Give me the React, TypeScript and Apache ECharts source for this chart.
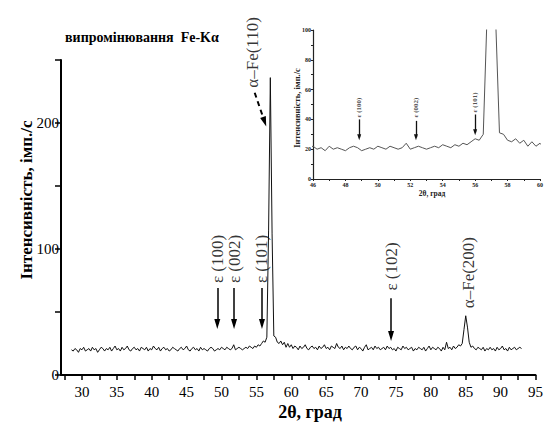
import React, { useEffect, useRef } from "react";
import * as echarts from "echarts";

// scan start / step (2θ, degrees)
const scanStart = 28.5;
const scanStep = 0.25;
// intensity, imp./s, one value per step
const intensity = [
  20, 19, 21, 20, 18, 21, 20, 22, 19, 20, 21, 19, 22, 20, 21, 18, 20, 22, 21, 19,
  21, 20, 22, 19, 21, 23, 20, 21, 19, 22, 20, 21, 23, 20, 19, 21, 22, 20, 21, 19,
  22, 21, 20, 22, 19, 21, 20, 23, 21, 20, 22, 19, 21, 22, 20, 21, 19, 20, 22, 21,
  20, 19, 21, 22, 20, 21, 23, 20, 19, 21, 22, 20, 21, 19, 22, 20, 21, 20, 19, 21,
  22, 21, 19, 20, 21, 20, 22, 21, 20, 22, 21, 20, 21, 24, 20, 21, 22, 21, 20, 21,
  22, 21, 23, 22, 21, 23, 22, 24, 23, 25, 27, 26, 30, 115, 236, 112, 31, 30, 26, 25,
  27, 24, 26, 22, 25, 22, 24, 21, 23, 22, 20, 23, 21, 22, 24, 21, 20, 22, 23, 21,
  22, 20, 23, 21, 22, 24, 21, 22, 20, 23, 22, 21, 25, 22, 21, 23, 20, 22, 21, 23,
  21, 20, 22, 23, 20, 22, 21, 19, 22, 24, 20, 21, 22, 20, 23, 21, 22, 20, 21, 22,
  20, 23, 21, 22, 20, 21, 19, 22, 21, 20, 23, 21, 22, 20, 21, 22, 19, 21, 20, 22,
  21, 20, 22, 19, 21, 23, 20, 22, 21, 20, 22, 21, 19, 22, 20, 26, 21, 22, 20, 23,
  21, 22, 24, 23, 25, 36, 47, 38, 26, 22, 23, 21, 20, 22, 21, 20, 22, 19, 21, 20,
  22, 20, 21, 19, 22, 20, 21, 23, 20, 21, 19, 22, 20, 21, 22, 20, 21, 22, 21,
];

// main axis ticks
const mainXLabels = [30, 35, 40, 45, 50, 55, 60, 65, 70, 75, 80, 85, 90, 95];
const mainXTicks = [27.5, 30, 32.5, 35, 37.5, 40, 42.5, 45, 47.5, 50, 52.5, 55, 57.5, 60, 62.5, 65, 67.5, 70, 72.5, 75, 77.5, 80, 82.5, 85, 87.5, 90, 92.5, 95];

// main annotations (ε phase)
const epsNames = ["ε (100)", "ε (002)", "ε (101)", "ε (102)"];
const epsX = [49.4, 51.8, 55.8, 74.3];
const epsArrowTop = [69, 69, 69, 61];
const epsArrowTip = [40.5, 40.5, 40.5, 31];
const epsTextBase = [73, 73, 73, 67];

// α-Fe annotations
const feNames = ["α–Fe(110)", "α–Fe(200)"];
const feX = [54.5, 85.35];
const feTextBase = [228, 53];
const fe110ArrowFrom = [54.76, 224];
const fe110ArrowTo = [56.18, 201];

// inset annotations
const insetEpsNames = ["ε (100)", "ε (002)", "ε (101)"];
const insetEpsX = [48.85, 52.35, 56.0];
const insetArrowTop = [40, 39, 43.3];
const insetArrowTip = [28, 28, 31.3];
const insetTextBase = [41.3, 41.3, 44.7];

const serif = "Liberation Serif";

export default function App() {
  const ref = useRef<HTMLDivElement>(null);

  useEffect(() => {
    if (!ref.current) return;
    const chart = echarts.init(ref.current, null, { renderer: "svg" });
    const scan = intensity.map((v, i) => [scanStart + i * scanStep, v]);

    const mainArrows: any[] = epsX.map((x, i) => [
      { coord: [x, epsArrowTop[i]] },
      { coord: [x, epsArrowTip[i]] },
    ]);
    mainArrows.push([
      { coord: fe110ArrowFrom, lineStyle: { type: [5, 4], width: 2 } },
      { coord: fe110ArrowTo, lineStyle: { type: [5, 4], width: 2 } },
    ]);

    const insetArrows = insetEpsX.map((x, i) => [
      { coord: [x, insetArrowTop[i]] },
      { coord: [x, insetArrowTip[i]] },
    ]);

    const mainLabels = [
      ...epsX.map((x, i) => [x, epsTextBase[i], epsNames[i]]),
      ...feX.map((x, i) => [x, feTextBase[i], feNames[i]]),
    ];
    const insetLabels = insetEpsX.map((x, i) => [x, insetTextBase[i], insetEpsNames[i]]);

    const axisCommon = {
      axisLine: { show: true, lineStyle: { color: "#000", width: 2 } },
      splitLine: { show: false },
    };

    chart.setOption({
      animation: false,
      backgroundColor: "#ffffff",
      grid: [
        { left: 61, top: 60, width: 480, height: 315, containLabel: false },
        { left: 313, top: 30, width: 231, height: 149, containLabel: false },
      ],
      xAxis: [
        {
          gridIndex: 0,
          type: "value",
          min: 27,
          max: 95,
          ...axisCommon,
          axisTick: { show: true, length: 5, customValues: mainXTicks, lineStyle: { color: "#000", width: 1.5 } },
          axisLabel: {
            customValues: mainXLabels,
            fontFamily: serif,
            fontSize: 15,
            color: "#000",
            margin: 9,
          },
        },
        {
          gridIndex: 1,
          type: "value",
          min: 46,
          max: 60,
          interval: 1,
          axisLine: { show: true, lineStyle: { color: "#222", width: 1.2 } },
          splitLine: { show: false },
          axisTick: { show: true, length: 2, lineStyle: { color: "#222" } },
          axisLabel: {
            formatter: (v: number) => (v % 2 === 0 ? String(v) : ""),
            fontFamily: serif,
            fontSize: 6,
            fontWeight: "bold",
            color: "#222",
            margin: 3,
          },
        },
      ],
      yAxis: [
        {
          gridIndex: 0,
          type: "value",
          min: 0,
          max: 250,
          interval: 50,
          ...axisCommon,
          axisTick: { show: true, length: 6, lineStyle: { color: "#000", width: 1.5 } },
          axisLabel: {
            formatter: (v: number) => (v % 100 === 0 ? String(v) : ""),
            fontFamily: serif,
            fontSize: 15,
            color: "#000",
            margin: 2,
          },
        },
        {
          gridIndex: 1,
          type: "value",
          min: 0,
          max: 100,
          interval: 10,
          axisLine: { show: true, lineStyle: { color: "#222", width: 1.2 } },
          splitLine: { show: false },
          axisTick: { show: true, length: 2, lineStyle: { color: "#222" } },
          axisLabel: {
            formatter: (v: number) => (v % 20 === 0 ? String(v) : ""),
            fontFamily: serif,
            fontSize: 6,
            fontWeight: "bold",
            color: "#222",
            margin: 2,
          },
        },
      ],
      series: [
        {
          type: "line",
          xAxisIndex: 0,
          yAxisIndex: 0,
          data: scan,
          showSymbol: false,
          clip: true,
          lineStyle: { color: "#111", width: 1 },
          markLine: {
            silent: true,
            symbol: ["none", "triangle"],
            symbolSize: [6, 10],
            label: { show: false },
            lineStyle: { color: "#000", width: 1.5, type: "solid" },
            data: mainArrows,
          },
        },
        {
          type: "scatter",
          xAxisIndex: 0,
          yAxisIndex: 0,
          data: mainLabels,
          symbolSize: 0,
          silent: true,
          label: {
            show: true,
            position: "inside",
            formatter: (p: any) => p.value[2],
            rotate: 90,
            align: "left",
            verticalAlign: "middle",
            fontFamily: serif,
            fontSize: 17,
            color: "#000",
          },
        },
        {
          type: "line",
          xAxisIndex: 1,
          yAxisIndex: 1,
          data: scan,
          showSymbol: false,
          clip: true,
          lineStyle: { color: "#555", width: 1 },
          markLine: {
            silent: true,
            symbol: ["none", "triangle"],
            symbolSize: [4, 6],
            label: { show: false },
            lineStyle: { color: "#111", width: 1.3, type: "solid" },
            data: insetArrows,
          },
        },
        {
          type: "scatter",
          xAxisIndex: 1,
          yAxisIndex: 1,
          data: insetLabels,
          symbolSize: 0,
          silent: true,
          label: {
            show: true,
            position: "inside",
            formatter: (p: any) => p.value[2],
            rotate: 90,
            align: "left",
            verticalAlign: "middle",
            fontFamily: serif,
            fontSize: 7,
            fontWeight: "bold",
            color: "#222",
          },
        },
      ],
      graphic: [
        {
          type: "text",
          x: 65,
          y: 37,
          style: {
            text: "випромінювання  Fe-Kα",
            font: `bold 14px "${serif}"`,
            fill: "#000",
            align: "left",
            verticalAlign: "middle",
          },
        },
        {
          type: "text",
          x: 26,
          y: 200,
          rotation: Math.PI / 2,
          style: {
            text: "Інтенсивність, імп./с",
            font: `bold 17px "${serif}"`,
            fill: "#000",
            align: "center",
            verticalAlign: "middle",
          },
        },
        {
          type: "text",
          x: 310,
          y: 412,
          style: {
            text: "2θ, град",
            font: `bold 18px "${serif}"`,
            fill: "#000",
            align: "center",
            verticalAlign: "middle",
          },
        },
        {
          type: "text",
          x: 432,
          y: 193,
          style: {
            text: "2θ, град",
            font: `bold 7.5px "${serif}"`,
            fill: "#222",
            align: "center",
            verticalAlign: "middle",
          },
        },
        {
          type: "text",
          x: 297,
          y: 108,
          rotation: Math.PI / 2,
          style: {
            text: "Інтенсивність, імп./с",
            font: `bold 8.5px "${serif}"`,
            fill: "#222",
            align: "center",
            verticalAlign: "middle",
          },
        },
      ],
    });

    return () => chart.dispose();
  }, []);

  return (
    <div
      ref={ref}
      style={{ position: "absolute", left: 0, top: 0, width: 546, height: 427 }}
    />
  );
}
